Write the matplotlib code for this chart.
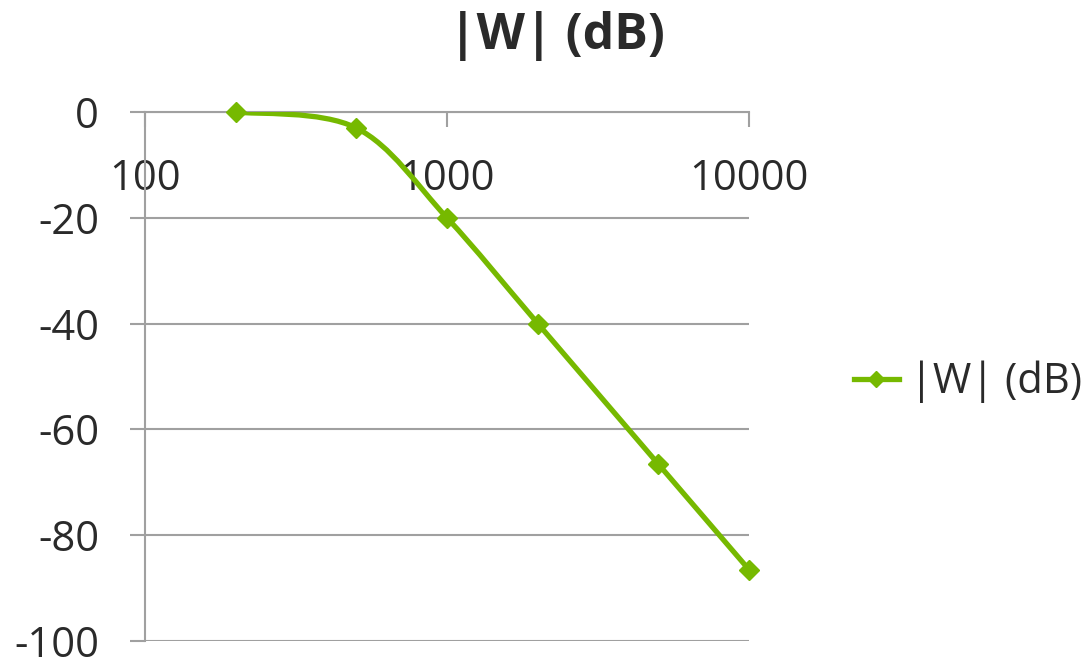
import numpy as np
import matplotlib
matplotlib.use("Agg")
import matplotlib.pyplot as plt
from matplotlib.path import Path
from matplotlib.patches import PathPatch
from matplotlib.lines import Line2D

# data
freq = [200, 500, 1000, 2000, 5000, 10000]
gain_db = [0, -3, -20, -40, -66.5, -86.5]
x_ticks = [100, 1000, 10000]
y_ticks = [0, -20, -40, -60, -80, -100]
title = "|W| (dB)"

green = "#76b900"
grey = "#a0a0a0"
txt = "#2a2a2a"

plt.rcParams['font.family'] = ['Open Sans', 'DejaVu Sans']
plt.rcParams['axes.unicode_minus'] = False


# excel style smoothed line: bezier through the points, built in log-x space
def smooth_path(xs, ys):
    pts = np.column_stack([np.log10(xs), ys])
    n = len(pts)
    verts = [pts[0]]
    codes = [Path.MOVETO]
    for i in range(n - 1):
        p0 = pts[max(i - 1, 0)]
        p1 = pts[i]
        p2 = pts[i + 1]
        p3 = pts[min(i + 2, n - 1)]
        verts += [p1 + (p2 - p0) / 6, p2 - (p3 - p1) / 6, p2]
        codes += [Path.CURVE4] * 3
    verts = np.array(verts)
    verts[:, 0] = 10 ** verts[:, 0]
    return Path(verts, codes)


fig = plt.figure(figsize=(10.88, 6.59), dpi=100)
ax = fig.add_axes([0.1333, 0.0273, 0.5551, 0.8027])
ax.set_xscale('log')
ax.set_xlim(100, 10000)
ax.set_ylim(-100, 0)

# horizontal gridlines
for yv in y_ticks:
    ax.axhline(yv, color=grey, lw=1.5, zorder=1)

ax.add_patch(PathPatch(smooth_path(freq, gain_db), fill=False,
                       edgecolor=green, lw=3.8, zorder=3, capstyle='round'))
ax.plot(freq, gain_db, 'D', color=green, markersize=10, zorder=4, clip_on=False)

for s in ['top', 'right']:
    ax.spines[s].set_visible(False)
ax.spines['bottom'].set_position(('data', 0))
ax.spines['bottom'].set_color(grey)
ax.spines['left'].set_color(grey)
ax.spines['bottom'].set_linewidth(1.5)
ax.spines['left'].set_linewidth(1.5)

ax.set_xticks(x_ticks)
ax.set_xticklabels([str(v) for v in x_ticks])
ax.xaxis.set_minor_locator(matplotlib.ticker.NullLocator())
ax.set_yticks(y_ticks)
ax.tick_params(axis='x', direction='out', length=11, width=1.5, color=grey,
               labelsize=30, labelcolor=txt, pad=22)
ax.tick_params(axis='y', direction='out', length=11, width=1.5, color=grey,
               labelsize=30, labelcolor=txt, pad=22)

fig.text(0.512, 0.945, title, ha='center', va='center', fontsize=36,
         fontweight='bold', color=txt)

handle = Line2D([], [], color=green, lw=3.8, marker='D', markersize=8)
fig.legend([handle], [title], loc='center left', bbox_to_anchor=(0.75, 0.42),
           frameon=False, fontsize=30, handlelength=1.1, handletextpad=0.25,
           labelcolor=txt)

fig.savefig("out.png", dpi=100)
